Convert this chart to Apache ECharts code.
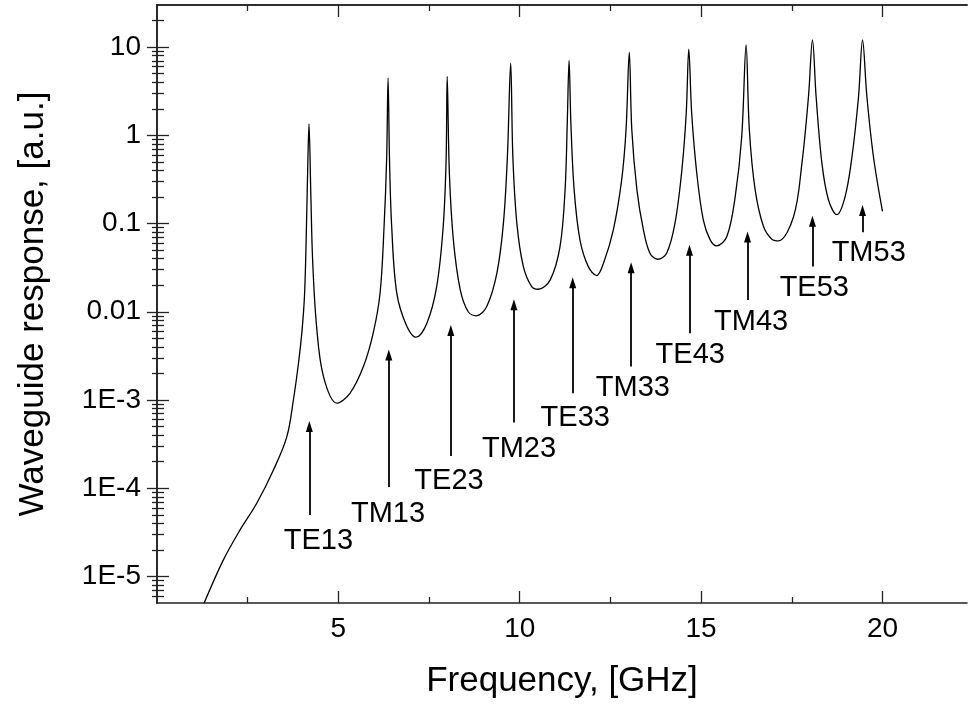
<!DOCTYPE html>
<html>
<head>
<meta charset="utf-8">
<script src="https://cdn.jsdelivr.net/npm/echarts@6/dist/echarts.min.js"></script>
<style>
  html, body { margin: 0; padding: 0; background: #fff; }
  #chart { width: 968px; height: 705px; }
</style>
</head>
<body>
<div id="chart"></div>
<script>
// curve: frequency (GHz) / response (a.u.)
var freq = [1.30, 1.83, 2.29, 2.75, 3.21, 3.58, 3.76, 3.90, 4.00, 4.07, 4.12, 4.16, 4.19,
  4.24, 4.29, 4.40, 4.59, 4.96, 5.32, 5.69, 5.96, 6.15, 6.26, 6.33, 6.37,
  6.41, 6.47, 6.61, 6.89, 7.14, 7.44, 7.71, 7.89, 7.97, 8.00,
  8.06, 8.17, 8.36, 8.58, 8.80, 9.09, 9.37, 9.55, 9.66, 9.75,
  9.81, 9.92, 10.10, 10.33, 10.51, 10.84, 11.11, 11.25, 11.31, 11.36,
  11.41, 11.50, 11.66, 11.89, 12.12, 12.31, 12.58, 12.81, 12.93, 13.02,
  13.09, 13.23, 13.41, 13.59, 13.80, 14.05, 14.28, 14.47, 14.59, 14.66,
  14.74, 14.88, 15.06, 15.25, 15.43, 15.71, 15.94, 16.12, 16.24,
  16.33, 16.49, 16.72, 16.95, 17.13, 17.55, 17.78, 17.96, 18.07,
  18.17, 18.33, 18.51, 18.74, 18.97, 19.16, 19.34, 19.45,
  19.57, 19.75, 20.00];
var resp = [5.0e-6, 1.54e-5, 3.37e-5, 6.76e-5, 1.61e-4, 3.85e-4, 1.0e-3, 2.61e-3, 6.24e-3, 0.0164, 0.0918, 0.527, 1.35,
  0.221, 0.0388, 6.79e-3, 1.84e-3, 9.2e-4, 1.19e-3, 2.39e-3, 5.72e-3, 0.0163, 0.0925, 0.527, 4.46,
  0.527, 0.0925, 0.0163, 6.79e-3, 5.15e-3, 7.43e-3, 0.0193, 0.0925, 0.527, 4.64,
  0.373, 0.0653, 0.0177, 0.0100, 9.0e-3, 0.0115, 0.0274, 0.101, 0.575, 6.59,
  0.575, 0.101, 0.0325, 0.0193, 0.0180, 0.0230, 0.0548, 0.241, 1.37, 7.05,
  1.37, 0.241, 0.0653, 0.0325, 0.0257, 0.0356, 0.0849, 0.313, 1.15, 8.69,
  1.15, 0.241, 0.0849, 0.0461, 0.0394, 0.0461, 0.101, 0.406, 1.79, 9.49,
  1.79, 0.373, 0.110, 0.0653, 0.0558, 0.0713, 0.202, 0.969, 10.6,
  1.15, 0.241, 0.0925, 0.0665, 0.0637, 0.120, 0.484, 2.75, 12.1,
  2.75, 0.484, 0.186, 0.126, 0.202, 0.575, 2.75, 12.1,
  2.75, 0.575, 0.137];

// mode annotations
var modeNames = ['TE13', 'TM13', 'TE23', 'TM23', 'TE33', 'TM33', 'TE43', 'TM43', 'TE53', 'TM53'];
var arrowFreq = [4.20, 6.39, 8.10, 9.84, 11.46, 13.07, 14.68, 16.28, 18.07, 19.45];
var arrowFrom = [4.98e-5, 1.03e-4, 2.32e-4, 5.55e-4, 1.19e-3, 2.39e-3, 5.72e-3, 0.0136, 0.0325, 0.0798];
var arrowTo = [5.0e-4, 3.24e-3, 6.12e-3, 0.0120, 0.0213, 0.0315, 0.0497, 0.0702, 0.106, 0.141];
var labelFreq = [4.45, 6.37, 8.05, 9.98, 11.53, 13.12, 14.70, 16.38, 18.12, 19.62];
var labelResp = [2.53e-5, 5.15e-5, 1.21e-4, 2.79e-4, 6.22e-4, 1.36e-3, 3.24e-3, 7.73e-3, 0.0187, 0.0466];

// axes
var xMin = 0, xMax = 22.33;
var yMin = 5e-6, yMax = 30;
var xTicks = [5, 10, 15, 20];
var xMinorTicks = [2.5, 7.5, 12.5, 17.5];
var yTicks = [1e-5, 1e-4, 1e-3, 0.01, 0.1, 1, 10];
var yTickLabels = ['1E-5', '1E-4', '1E-3', '0.01', '0.1', '1', '10'];
var yMinorTicks = [];
for (var d = -6; d <= 1; d++) {
  for (var m = 2; m <= 9; m++) {
    var v = m * Math.pow(10, d);
    if (v > yMin && v < yMax) yMinorTicks.push(v);
  }
}

var FONT = 'Liberation Sans';
var axisColor = '#222';

function yLabel(val) {
  for (var i = 0; i < yTicks.length; i++) {
    if (Math.abs(Math.log10(val) - Math.log10(yTicks[i])) < 1e-6) return yTickLabels[i];
  }
  return '';
}

function xAxisDef(pos, ticks, len, main) {
  return {
    type: 'value', position: pos, min: xMin, max: xMax,
    name: main ? 'Frequency, [GHz]' : '',
    nameLocation: 'middle', nameGap: 61,
    nameTextStyle: { fontFamily: FONT, fontSize: 35, color: '#000' },
    axisLine: { show: !!main || pos === 'top', lineStyle: { color: axisColor, width: 1.6 } },
    axisTick: { show: true, inside: true, length: len, customValues: ticks,
      lineStyle: { color: axisColor, width: 1.3 } },
    axisLabel: { show: !!main && pos === 'bottom', customValues: ticks, margin: 12,
      fontFamily: FONT, fontSize: 28, color: '#000' },
    splitLine: { show: false }
  };
}

function yAxisDef(pos, ticks, len, main) {
  return {
    type: 'log', logBase: 10, position: pos, min: yMin, max: yMax,
    name: main && pos === 'left' ? 'Waveguide response, [a.u.]' : '',
    nameLocation: 'middle', nameGap: 106, nameRotate: 90,
    nameTextStyle: { fontFamily: FONT, fontSize: 35, color: '#000' },
    axisLine: { show: !!main, lineStyle: { color: axisColor, width: 1.6 } },
    axisTick: { show: true, inside: true, length: len, customValues: ticks,
      lineStyle: { color: axisColor, width: 1.3 } },
    axisLabel: { show: !!main && pos === 'left', customValues: ticks, margin: 16,
      fontFamily: FONT, fontSize: 28, color: '#000', formatter: yLabel },
    splitLine: { show: false },
    minorTick: { show: false }
  };
}

var chart = echarts.init(document.getElementById('chart'), null, { renderer: 'canvas' });

var curve = freq.map(function (f, i) { return [f, resp[i]]; });

var option = {
  animation: false,
  backgroundColor: '#fff',
  grid: { left: 157, right: 1, top: 5, bottom: 102, containLabel: false },
  xAxis: [
    xAxisDef('bottom', xTicks, 12, true),
    xAxisDef('bottom', xMinorTicks, 6, false),
    xAxisDef('top', xTicks, 12, false),
    xAxisDef('top', xMinorTicks, 6, false)
  ],
  yAxis: [
    yAxisDef('left', yTicks, 12, true),
    yAxisDef('left', yMinorTicks, 7, false),
    yAxisDef('right', yTicks, 10, true),
    yAxisDef('right', yMinorTicks, 5, false)
  ],
  series: [
    {
      type: 'line',
      xAxisIndex: 0, yAxisIndex: 0,
      data: curve,
      showSymbol: false,
      symbol: 'none',
      smooth: 0.35,
      lineStyle: { color: '#000', width: 1.3 },
      markLine: {
        silent: true,
        symbol: ['none', 'triangle'],
        symbolSize: [7, 11],
        label: { show: false },
        lineStyle: { color: '#000', width: 1.8, type: 'solid' },
        emphasis: { disabled: true },
        data: arrowFreq.map(function (f, i) {
          return [{ coord: [f, arrowFrom[i]] }, { coord: [f, arrowTo[i]] }];
        })
      }
    },
    {
      type: 'scatter',
      xAxisIndex: 0, yAxisIndex: 0,
      symbol: 'circle',
      symbolSize: 2,
      itemStyle: { color: 'rgba(0,0,0,0)', opacity: 1 },
      silent: true,
      label: {
        show: true, position: 'inside', formatter: '{b}', opacity: 1,
        fontFamily: FONT, fontSize: 29, color: '#000'
      },
      data: labelFreq.map(function (f, i) {
        return { name: modeNames[i], value: [f, labelResp[i]] };
      })
    }
  ]
};

chart.setOption(option);
</script>
</body>
</html>
